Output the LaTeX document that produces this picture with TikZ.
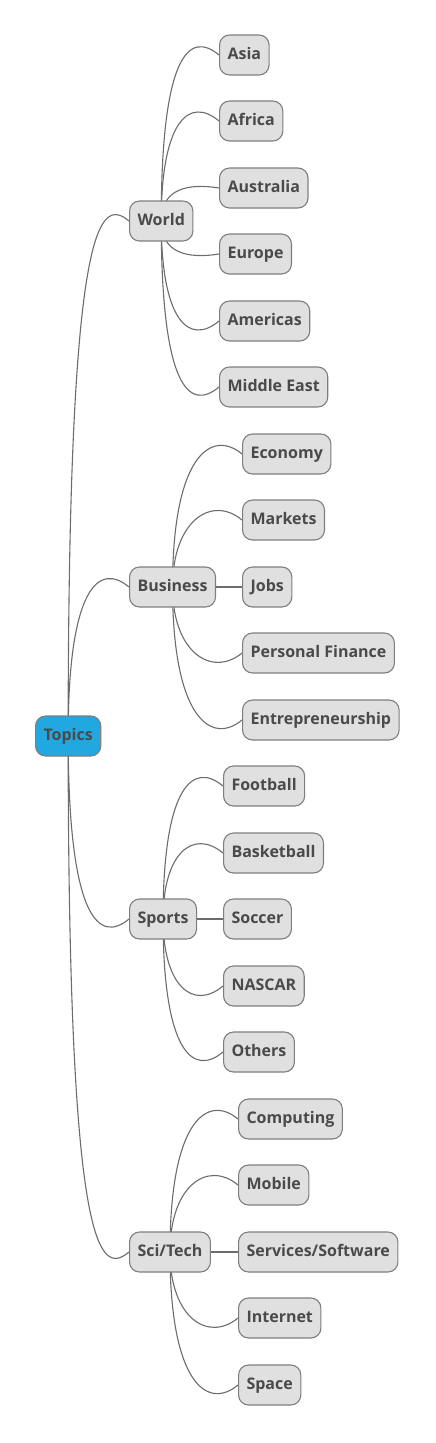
\documentclass[tikz,border=0pt]{standalone}
\usepackage{fontspec}
\setmainfont{Open Sans}
\usepackage{xcolor}
\usetikzlibrary{backgrounds,calc}
\definecolor{mapink}{HTML}{4A4A4A}
\definecolor{mapline}{HTML}{6C6C6C}
\definecolor{mapedge}{HTML}{7E7E7E}
\definecolor{mapfill}{HTML}{E0E0E0}
\definecolor{maproot}{HTML}{22A8E0}

\begin{document}
\begin{tikzpicture}[
    x=1pt,
    y=-1pt,
    topic/.style={draw=mapedge, fill=mapfill, line width=1.1pt, rounded corners=10pt,
      minimum height=40pt, inner xsep=8pt, anchor=west, text=mapink,
      text height=11.5pt, text depth=3.5pt,
      font=\fontsize{16}{18}\selectfont\bfseries},
    root/.style={topic, fill=maproot},
    edge/.style={draw=mapline, line width=1.1pt},
    branch/.style={to path={let \p1=(\tikztostart), \p2=(\tikztotarget),
      \n1={max(0,min(25,0.6*abs(\y2-\y1)-15))},
      \n2={(\y2>\y1) ? \n1 : -\n1} in
      .. controls (\x1,\y2) and ({\x2-30pt},{\y2+(\n2)*1pt}) .. (\tikztotarget)}}
  ]
    \useasboundingbox (0,0) rectangle (436,1443);

    % root and main branches
    \node[root] (topics) at (35,736) {Topics};
    \node[topic] (world) at (129,221) {World};
    \node[topic] (business) at (129,587) {Business};
    \node[topic] (sports) at (129,919) {Sports};
    \node[topic] (scitech) at (129,1252) {Sci/Tech};

    % leaves
    \foreach \name/\txt/\y in {asia/Asia/55, africa/Africa/121, australia/Australia/188,
        europe/Europe/254, americas/Americas/321, mideast/Middle East/387} {
      \node[topic] (\name) at (219,\y) {\txt};
    }
    \foreach \name/\txt/\y in {economy/Economy/454, markets/Markets/520, jobs/Jobs/587,
        finance/Personal Finance/653, entrepreneur/Entrepreneurship/720} {
      \node[topic] (\name) at (242,\y) {\txt};
    }
    \foreach \name/\txt/\y in {football/Football/786, basketball/Basketball/853,
        soccer/Soccer/919, nascar/NASCAR/986, others/Others/1052} {
      \node[topic] (\name) at (223,\y) {\txt};
    }
    \foreach \name/\txt/\y in {computing/Computing/1119, mobile/Mobile/1185,
        software/{Services/Software}/1252, internet/Internet/1318, space/Space/1385} {
      \node[topic] (\name) at (238,\y) {\txt};
    }

    % connectors behind the boxes
    \begin{scope}[on background layer]
      \foreach \kid in {world,business,sports,scitech}
        \draw[edge] (topics.center) to[branch] (\kid.west);
      \foreach \kid in {asia,africa,australia,europe,americas,mideast}
        \draw[edge] (world.center) to[branch] (\kid.west);
      \foreach \kid in {economy,markets,jobs,finance,entrepreneur}
        \draw[edge] (business.center) to[branch] (\kid.west);
      \foreach \kid in {football,basketball,soccer,nascar,others}
        \draw[edge] (sports.center) to[branch] (\kid.west);
      \foreach \kid in {computing,mobile,software,internet,space}
        \draw[edge] (scitech.center) to[branch] (\kid.west);
    \end{scope}

\end{tikzpicture}
\end{document}
